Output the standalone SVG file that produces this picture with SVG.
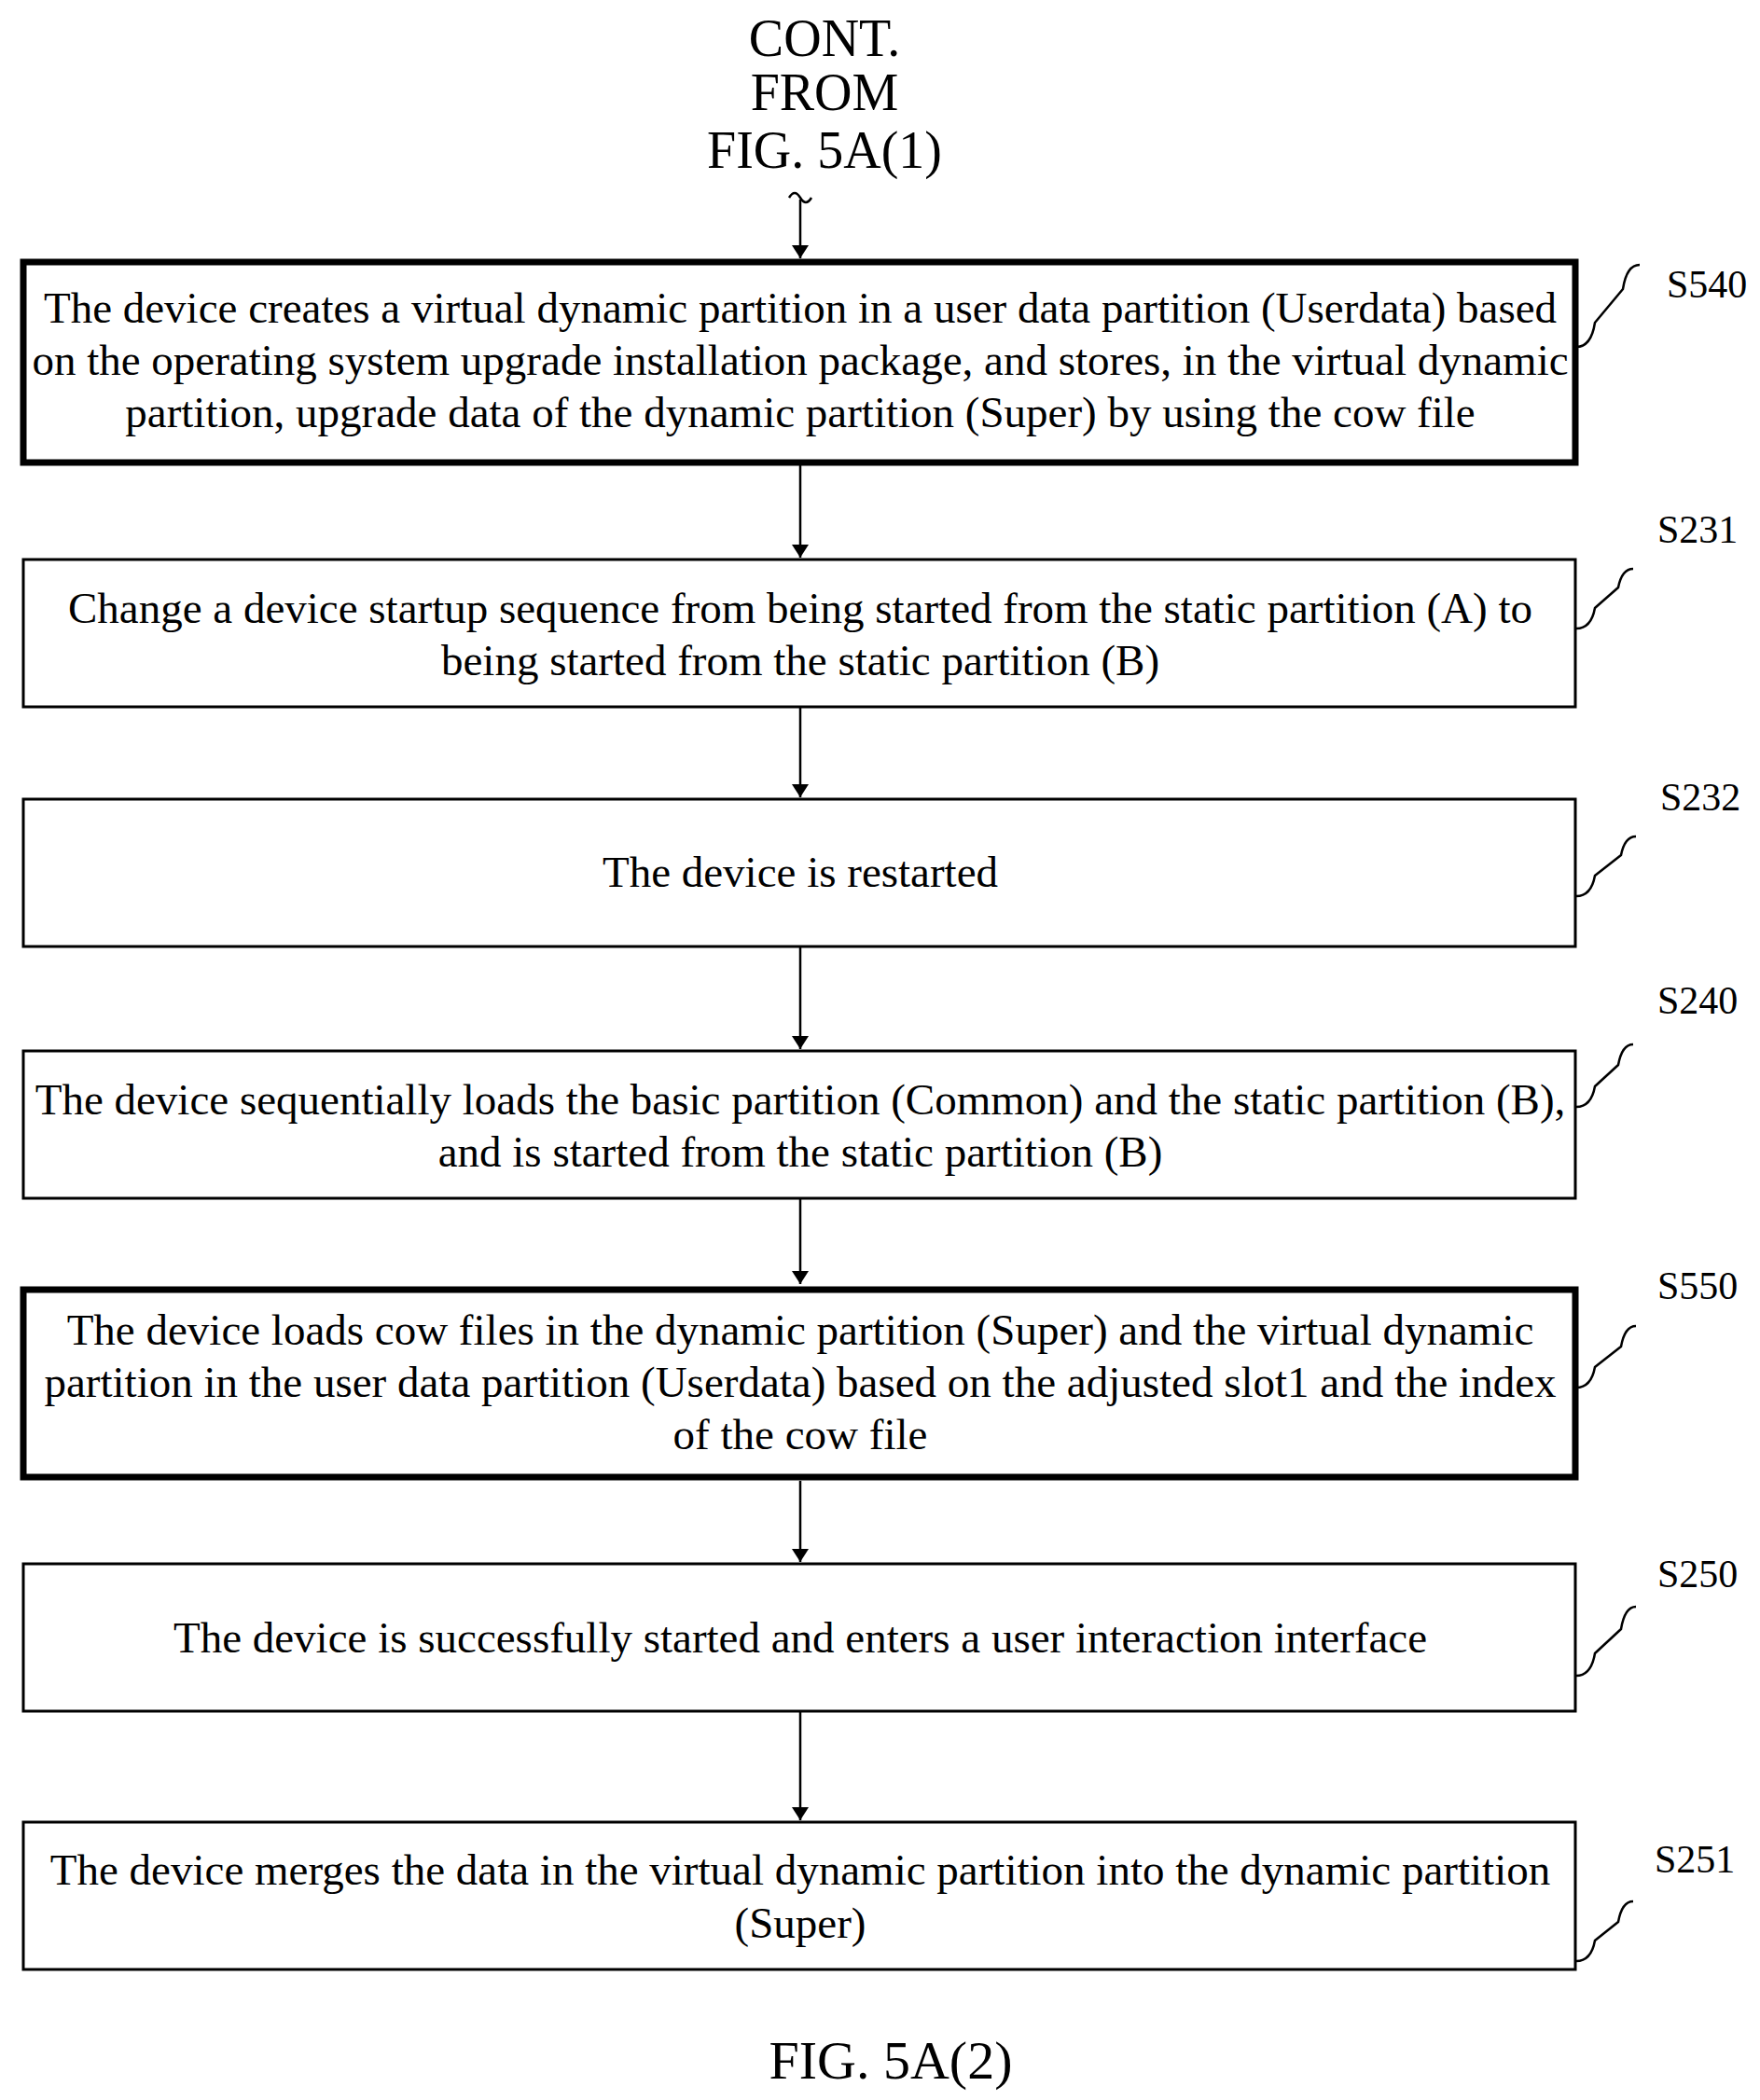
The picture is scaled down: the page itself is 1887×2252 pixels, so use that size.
<svg xmlns="http://www.w3.org/2000/svg" width="1887" height="2252" viewBox="0 0 1887 2252">
<style>
text{font-family:"Liberation Serif","Times New Roman",serif;fill:#000}
.t{font-size:47px;text-anchor:middle}
.h{font-size:56px;text-anchor:middle}
.f{font-size:58px;text-anchor:middle}
.l{font-size:42px}
.b{fill:#fff;stroke:#000;stroke-width:3}
.k{fill:#fff;stroke:#000;stroke-width:7}
.c{fill:none;stroke:#000;stroke-width:2.5}
</style>
<defs><marker id="a" markerWidth="14" markerHeight="18" refX="14" refY="9" orient="auto" markerUnits="userSpaceOnUse"><path d="M0,0 L14,9 L0,18 Z" fill="#000"/></marker></defs>
<g id="header">
<text class="h" x="884" y="60">CONT.</text>
<text class="h" x="884" y="118">FROM</text>
<text class="h" x="884" y="180">FIG. 5A(1)</text>
<path class="c" d="M846,212 q6,-10 12,0 q6,10 12,0"/>
</g>
<g id="connectors">
<line class="c" x1="858" y1="214" x2="858" y2="277" marker-end="url(#a)"/>
<line class="c" x1="858" y1="498" x2="858" y2="598" marker-end="url(#a)"/>
<line class="c" x1="858" y1="758" x2="858" y2="855" marker-end="url(#a)"/>
<line class="c" x1="858" y1="1015" x2="858" y2="1125" marker-end="url(#a)"/>
<line class="c" x1="858" y1="1285" x2="858" y2="1377" marker-end="url(#a)"/>
<line class="c" x1="858" y1="1588" x2="858" y2="1675" marker-end="url(#a)"/>
<line class="c" x1="858" y1="1835" x2="858" y2="1952" marker-end="url(#a)"/>
</g>
<g id="S540">
<rect class="k" x="25" y="281" width="1664" height="215"/>
<text class="t" x="858" y="346">The device creates a virtual dynamic partition in a user data partition (Userdata) based</text>
<text class="t" x="858" y="402">on the operating system upgrade installation package, and stores, in the virtual dynamic</text>
<text class="t" x="858" y="458">partition, upgrade data of the dynamic partition (Super) by using the cow file</text>
<text class="l" x="1787" y="319">S540</text>
<path class="c" d="M1690,372 q16,0 20,-26 L1740,310 q4,-26 18,-26"/>
</g>
<g id="S231">
<rect class="b" x="25" y="600" width="1664" height="158"/>
<text class="t" x="858" y="668">Change a device startup sequence from being started from the static partition (A) to</text>
<text class="t" x="858" y="724">being started from the static partition (B)</text>
<text class="l" x="1777" y="582">S231</text>
<path class="c" d="M1690,674 q16,0 20,-22 L1735,630 q4,-20 16,-20"/>
</g>
<g id="S232">
<rect class="b" x="25" y="857" width="1664" height="158"/>
<text class="t" x="858" y="951">The device is restarted</text>
<text class="l" x="1780" y="869">S232</text>
<path class="c" d="M1690,961 q16,0 20,-22 L1738,917 q4,-20 16,-20"/>
</g>
<g id="S240">
<rect class="b" x="25" y="1127" width="1664" height="158"/>
<text class="t" x="858" y="1195">The device sequentially loads the basic partition (Common) and the static partition (B),</text>
<text class="t" x="858" y="1251">and is started from the static partition (B)</text>
<text class="l" x="1777" y="1087">S240</text>
<path class="c" d="M1690,1187 q16,0 20,-22 L1735,1142 q4,-22 16,-22"/>
</g>
<g id="S550">
<rect class="k" x="25" y="1383" width="1664" height="201"/>
<text class="t" x="858" y="1442">The device loads cow files in the dynamic partition (Super) and the virtual dynamic</text>
<text class="t" x="858" y="1498">partition in the user data partition (Userdata) based on the adjusted slot1 and the index</text>
<text class="t" x="858" y="1554">of the cow file</text>
<text class="l" x="1777" y="1393">S550</text>
<path class="c" d="M1690,1488 q16,0 20,-22 L1738,1444 q4,-22 16,-22"/>
</g>
<g id="S250">
<rect class="b" x="25" y="1677" width="1664" height="158"/>
<text class="t" x="858" y="1772">The device is successfully started and enters a user interaction interface</text>
<text class="l" x="1777" y="1702">S250</text>
<path class="c" d="M1690,1797 q16,0 20,-24 L1738,1747 q4,-24 16,-24"/>
</g>
<g id="S251">
<rect class="b" x="25" y="1954" width="1664" height="158"/>
<text class="t" x="858" y="2021">The device merges the data in the virtual dynamic partition into the dynamic partition</text>
<text class="t" x="858" y="2078">(Super)</text>
<text class="l" x="1774" y="2008">S251</text>
<path class="c" d="M1690,2103 q16,0 20,-22 L1735,2061 q4,-22 16,-22"/>
</g>
<text class="f" x="955" y="2229">FIG. 5A(2)</text>
</svg>
